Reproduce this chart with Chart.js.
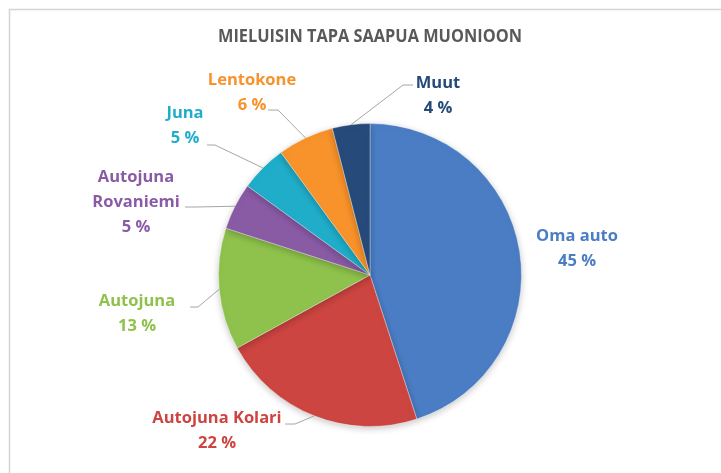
<!DOCTYPE html>
<html>
<head>
<meta charset="utf-8">
<script src="https://cdn.jsdelivr.net/npm/chart.js@4/dist/chart.umd.min.js"></script>
<style>
  body { margin: 0; background: #fff; }
  #wrap { position: relative; width: 721px; height: 473px; }
</style>
</head>
<body>
<div id="wrap"><canvas id="chart" width="721" height="473"></canvas></div>
<script>
// data
const categories = ['Oma auto', 'Autojuna Kolari', 'Autojuna', 'Autojuna Rovaniemi', 'Juna', 'Lentokone', 'Muut'];
const percents = [45, 22, 13, 5, 5, 6, 4];
const labelLines = [['Oma auto'], ['Autojuna Kolari'], ['Autojuna'], ['Autojuna', 'Rovaniemi'], ['Juna'], ['Lentokone'], ['Muut']];
const sliceColors = ['#4a7dc4', '#cc4541', '#8fc24c', '#8a5ba5', '#20adc9', '#f8922a', '#264a7a'];

// label placement relative to pie centre (text centre, leader end, leader elbow)
const labelSpots = [
  { tx: 207, ty: -26 },
  { tx: -153, ty: 156, ex: -85, ey: 149, kx: -75, ky: 149 },
  { tx: -233, ty: 39, ex: -180, ey: 32, kx: -172, ky: 32 },
  { tx: -234, ty: -73, ex: -185, ey: -68, kx: -175, ky: -68 },
  { tx: -185, ty: -149, ex: -163, ey: -130, kx: -155, ky: -130 },
  { tx: -118, ty: -182, ex: -102, ey: -165, kx: -92, ky: -165 },
  { tx: 68, ty: -179, ex: 43, ey: -190, kx: 33, ky: -190 }
];

const FONT = '"Open Sans", Lato, sans-serif';

const frame = {
  id: 'frame',
  beforeDraw(chart) {
    const ctx = chart.ctx;
    ctx.save();
    ctx.fillStyle = '#fff';
    ctx.fillRect(0, 0, chart.width, chart.height);
    ctx.strokeStyle = '#d4d4d4';
    ctx.lineWidth = 1.5;
    ctx.beginPath();
    ctx.moveTo(9.5, chart.height);
    ctx.lineTo(9.5, 9.5);
    ctx.lineTo(chart.width, 9.5);
    ctx.stroke();
    ctx.restore();
  }
};

const pieShadow = {
  id: 'pieShadow',
  beforeDatasetDraw(chart) {
    const ctx = chart.ctx;
    ctx.save();
    ctx.shadowColor = 'rgba(0,0,0,0.22)';
    ctx.shadowBlur = 7;
    ctx.shadowOffsetY = 2;
  },
  afterDatasetDraw(chart) {
    chart.ctx.restore();
  }
};

const pieLabels = {
  id: 'pieLabels',
  afterDatasetsDraw(chart) {
    const ctx = chart.ctx;
    const arcs = chart.getDatasetMeta(0).data;
    ctx.save();
    arcs.forEach((arc, i) => {
      const cx = arc.x, cy = arc.y;
      const spot = labelSpots[i];
      if (spot.ex !== undefined) {
        const mid = (arc.startAngle + arc.endAngle) / 2;
        const r = arc.outerRadius;
        ctx.strokeStyle = '#a6a6a6';
        ctx.lineWidth = 1;
        ctx.beginPath();
        ctx.moveTo(cx + spot.ex, cy + spot.ey);
        ctx.lineTo(cx + spot.kx, cy + spot.ky);
        ctx.lineTo(cx + Math.cos(mid) * r, cy + Math.sin(mid) * r);
        ctx.stroke();
      }
      const lines = labelLines[i].concat([percents[i] + ' %']);
      const lh = 25;
      ctx.fillStyle = sliceColors[i];
      ctx.font = 'bold 16.5px ' + FONT;
      ctx.textAlign = 'center';
      ctx.textBaseline = 'middle';
      const top = cy + spot.ty - (lines.length - 1) * lh / 2;
      lines.forEach((t, k) => ctx.fillText(t, cx + spot.tx, top + k * lh));
    });
    ctx.restore();
  }
};

new Chart(document.getElementById('chart'), {
  type: 'pie',
  data: {
    labels: categories,
    datasets: [{
      data: percents,
      backgroundColor: sliceColors,
      borderColor: 'rgba(255,255,255,0.35)',
      borderWidth: 1
    }]
  },
  options: {
    responsive: false,
    animation: false,
    layout: { padding: { left: 218, right: 199, top: 0, bottom: 46 } },
    plugins: {
      legend: { display: false },
      tooltip: { enabled: false },
      title: {
        display: true,
        text: 'MIELUISIN TAPA SAAPUA MUONIOON',
        color: '#595959',
        font: { family: FONT, size: 17.7, weight: 'bold' },
        padding: { top: 26.5, bottom: 75.3 }
      }
    }
  },
  plugins: [frame, pieShadow, pieLabels]
});
</script>
</body>
</html>
